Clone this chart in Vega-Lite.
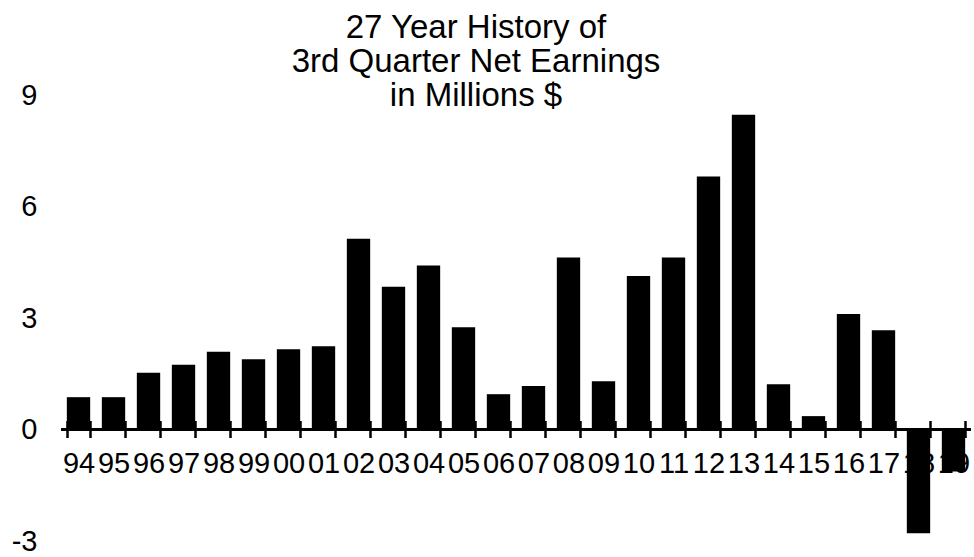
{
  "$schema": "https://vega.github.io/schema/vega-lite/v6.json",
  "autosize": "none",
  "width": 910,
  "height": 446,
  "padding": {"left": 61, "top": 95, "right": 3, "bottom": 16},
  "background": "white",
  "config": {
    "view": {"stroke": null},
    "font": "Liberation Sans",
    "axis": {"labelFont": "Liberation Sans", "labelColor": "black", "grid": false}
  },
  "title": {
    "text": ["27 Year History of", "3rd Quarter Net Earnings", "in Millions $"],
    "font": "Liberation Sans",
    "fontSize": 33,
    "fontWeight": "normal",
    "color": "black",
    "lineHeight": 34,
    "anchor": "middle",
    "frame": "group",
    "dx": -40,
    "offset": -32
  },
  "data": {
    "values": [
      {"year": "94", "earnings": 0.87},
      {"year": "95", "earnings": 0.87},
      {"year": "96", "earnings": 1.53},
      {"year": "97", "earnings": 1.74},
      {"year": "98", "earnings": 2.09},
      {"year": "99", "earnings": 1.89},
      {"year": "00", "earnings": 2.16},
      {"year": "01", "earnings": 2.24},
      {"year": "02", "earnings": 5.13},
      {"year": "03", "earnings": 3.84},
      {"year": "04", "earnings": 4.41},
      {"year": "05", "earnings": 2.75},
      {"year": "06", "earnings": 0.95},
      {"year": "07", "earnings": 1.17},
      {"year": "08", "earnings": 4.63},
      {"year": "09", "earnings": 1.3},
      {"year": "10", "earnings": 4.13},
      {"year": "11", "earnings": 4.63},
      {"year": "12", "earnings": 6.81},
      {"year": "13", "earnings": 8.47},
      {"year": "14", "earnings": 1.22},
      {"year": "15", "earnings": 0.36},
      {"year": "16", "earnings": 3.11},
      {"year": "17", "earnings": 2.67},
      {"year": "18", "earnings": -2.79},
      {"year": "19", "earnings": -1.13}
    ]
  },
  "layer": [
    {
      "mark": {"type": "bar", "color": "black"},
      "encoding": {
        "x": {
          "field": "year",
          "type": "ordinal",
          "sort": null,
          "scale": {"paddingInner": 0.333, "paddingOuter": 0.1667},
          "axis": {
            "orient": "bottom",
            "title": null,
            "offset": -120.5,
            "domain": false,
            "labelAngle": 0,
            "labelFontSize": 29,
            "labelPadding": 12,
            "labelColor": "black",
            "tickBand": "extent",
            "tickSize": 17,
            "tickWidth": 2.5,
            "tickColor": "black",
            "labelOverlap": false,
            "zindex": 0
          }
        },
        "y": {
          "field": "earnings",
          "type": "quantitative",
          "scale": {"domain": [-3, 9], "nice": false, "zero": false},
          "axis": {
            "title": null,
            "values": [9, 6, 3, 0, -3],
            "labelExpr": "replace(datum.label, '\u2212', '-')",
            "domain": false,
            "ticks": false,
            "grid": false,
            "labelFontSize": 29,
            "labelPadding": 24,
            "labelColor": "black"
          }
        }
      }
    },
    {
      "mark": {"type": "rule", "color": "black", "strokeWidth": 3},
      "encoding": {"y": {"datum": 0}}
    }
  ]
}
